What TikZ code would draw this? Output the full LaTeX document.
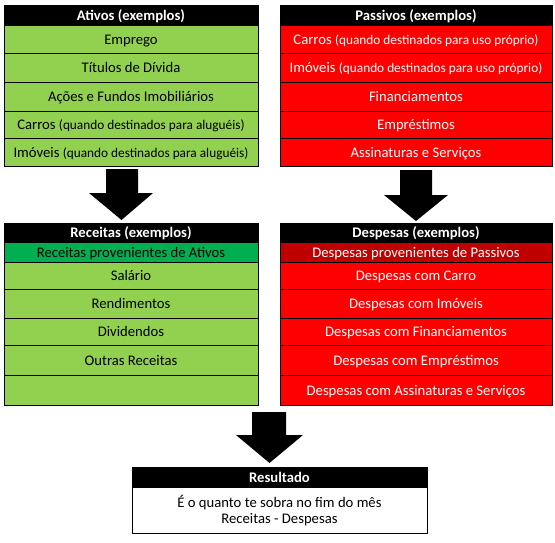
\documentclass[tikz,border=0pt]{standalone}
\usepackage{fontspec}
\setmainfont{Carlito}
\definecolor{lgreen}{HTML}{92D050}
\definecolor{dgreen}{HTML}{00B050}
\definecolor{dred}{HTML}{C00000}
\definecolor{bred}{HTML}{FF0000}
\newcommand{\smalltxt}{\fontsize{13.3}{15}\selectfont}
\begin{document}
\begin{tikzpicture}[x=1pt,y=-1pt,
  cell/.style={rectangle, draw=black, line width=0.9pt, inner sep=0pt, outer sep=0pt, font=\fontsize{14.67}{16}\selectfont, text height=12.5pt, text depth=1.6pt},
  lcell/.style={cell, minimum width=254pt},
  rcell/.style={cell, minimum width=272pt},
  hdr/.style={fill=black, text=white, font=\fontsize{14.67}{16}\selectfont\bfseries},
  grn/.style={fill=lgreen, text=black},
  red/.style={fill=bred, text=white},
  blockarrow/.style={fill=black},
  bodytxt/.style={anchor=base, inner sep=0pt, font=\fontsize{14.67}{16}\selectfont}
]
\path[use as bounding box] (0,0) rectangle (555,543);
% ---- Ativos
\node[lcell,hdr,minimum height=20pt] (ah) at (131,15) {Ativos (exemplos)};
\node[lcell,grn,minimum height=28pt] (a1) at (131,39) {Emprego};
\node[lcell,grn,minimum height=29pt] (a2) at (131,67.5) {Títulos de Dívida};
\node[lcell,grn,minimum height=29pt] (a3) at (131,96.5) {Ações e Fundos Imobiliários};
\node[lcell,grn,minimum height=27pt] (a4) at (131,124.5) {Carros {\smalltxt(quando destinados para aluguéis)}};
\node[lcell,grn,minimum height=28pt] (a5) at (131,152) {Imóveis {\smalltxt(quando destinados para aluguéis)}};
% ---- Passivos
\node[rcell,hdr,minimum height=20pt] (ph) at (416,15) {Passivos (exemplos)};
\node[rcell,red,minimum height=28pt] (p1) at (416,39) {Carros {\smalltxt(quando destinados para uso próprio)}};
\node[rcell,red,minimum height=29pt] (p2) at (416,67.5) {Imóveis {\smalltxt(quando destinados para uso próprio)}};
\node[rcell,red,minimum height=29pt] (p3) at (416,96.5) {Financiamentos};
\node[rcell,red,minimum height=27pt] (p4) at (416,124.5) {Empréstimos};
\node[rcell,red,minimum height=28pt] (p5) at (416,152) {Assinaturas e Serviços};
% ---- Receitas
\node[lcell,hdr,minimum height=19pt] (rh) at (131,232.5) {Receitas (exemplos)};
\node[lcell,fill=dgreen,minimum height=20pt] (rs) at (131,252) {Receitas provenientes de Ativos};
\node[lcell,grn,minimum height=27pt] (r1) at (131,275.5) {Salário};
\node[lcell,grn,minimum height=29pt] (r2) at (131,303.5) {Rendimentos};
\node[lcell,grn,minimum height=27pt] (r3) at (131,331.5) {Dividendos};
\node[lcell,grn,minimum height=30pt] (r4) at (131,360) {Outras Receitas};
\node[lcell,grn,minimum height=30pt] (r5) at (131,390) {};
% ---- Despesas
\node[rcell,hdr,minimum height=19pt] (dh) at (416,232.5) {Despesas (exemplos)};
\node[rcell,fill=dred,text=white,minimum height=20pt] (ds) at (416,252) {Despesas provenientes de Passivos};
\node[rcell,red,minimum height=27pt] (d1) at (416,275.5) {Despesas com Carro};
\node[rcell,red,minimum height=29pt] (d2) at (416,303.5) {Despesas com Imóveis};
\node[rcell,red,minimum height=27pt] (d3) at (416,331.5) {Despesas com Financiamentos};
\node[rcell,red,minimum height=30pt] (d4) at (416,360) {Despesas com Empréstimos};
\node[rcell,red,minimum height=30pt] (d5) at (416,390) {Despesas com Assinaturas e Serviços};
% ---- Resultado
\node[cell,hdr,minimum width=295pt,minimum height=20pt] (resh) at (279.5,477) {Resultado};
\node[cell,fill=white,minimum width=295pt,minimum height=46pt] (resb) at (279.5,510) {};
\node[bodytxt] (resl1) at (279.5,507) {É o quanto te sobra no fim do mês};
\node[bodytxt] (resl2) at (279.5,523) {Receitas - Despesas};
% ---- Block arrows
\fill[blockarrow] (106,169) -- (138,169) -- (138,193) -- (153,193) -- (121.5,220) -- (89,193) -- (106,193) -- cycle;
\fill[blockarrow] (400,170) -- (432,170) -- (432,195) -- (448,195) -- (416,221) -- (384,195) -- (400,195) -- cycle;
\fill[blockarrow] (252,412) -- (286,412) -- (286,435) -- (303,435) -- (269.5,463) -- (236,435) -- (252,435) -- cycle;
\end{tikzpicture}
\end{document}
